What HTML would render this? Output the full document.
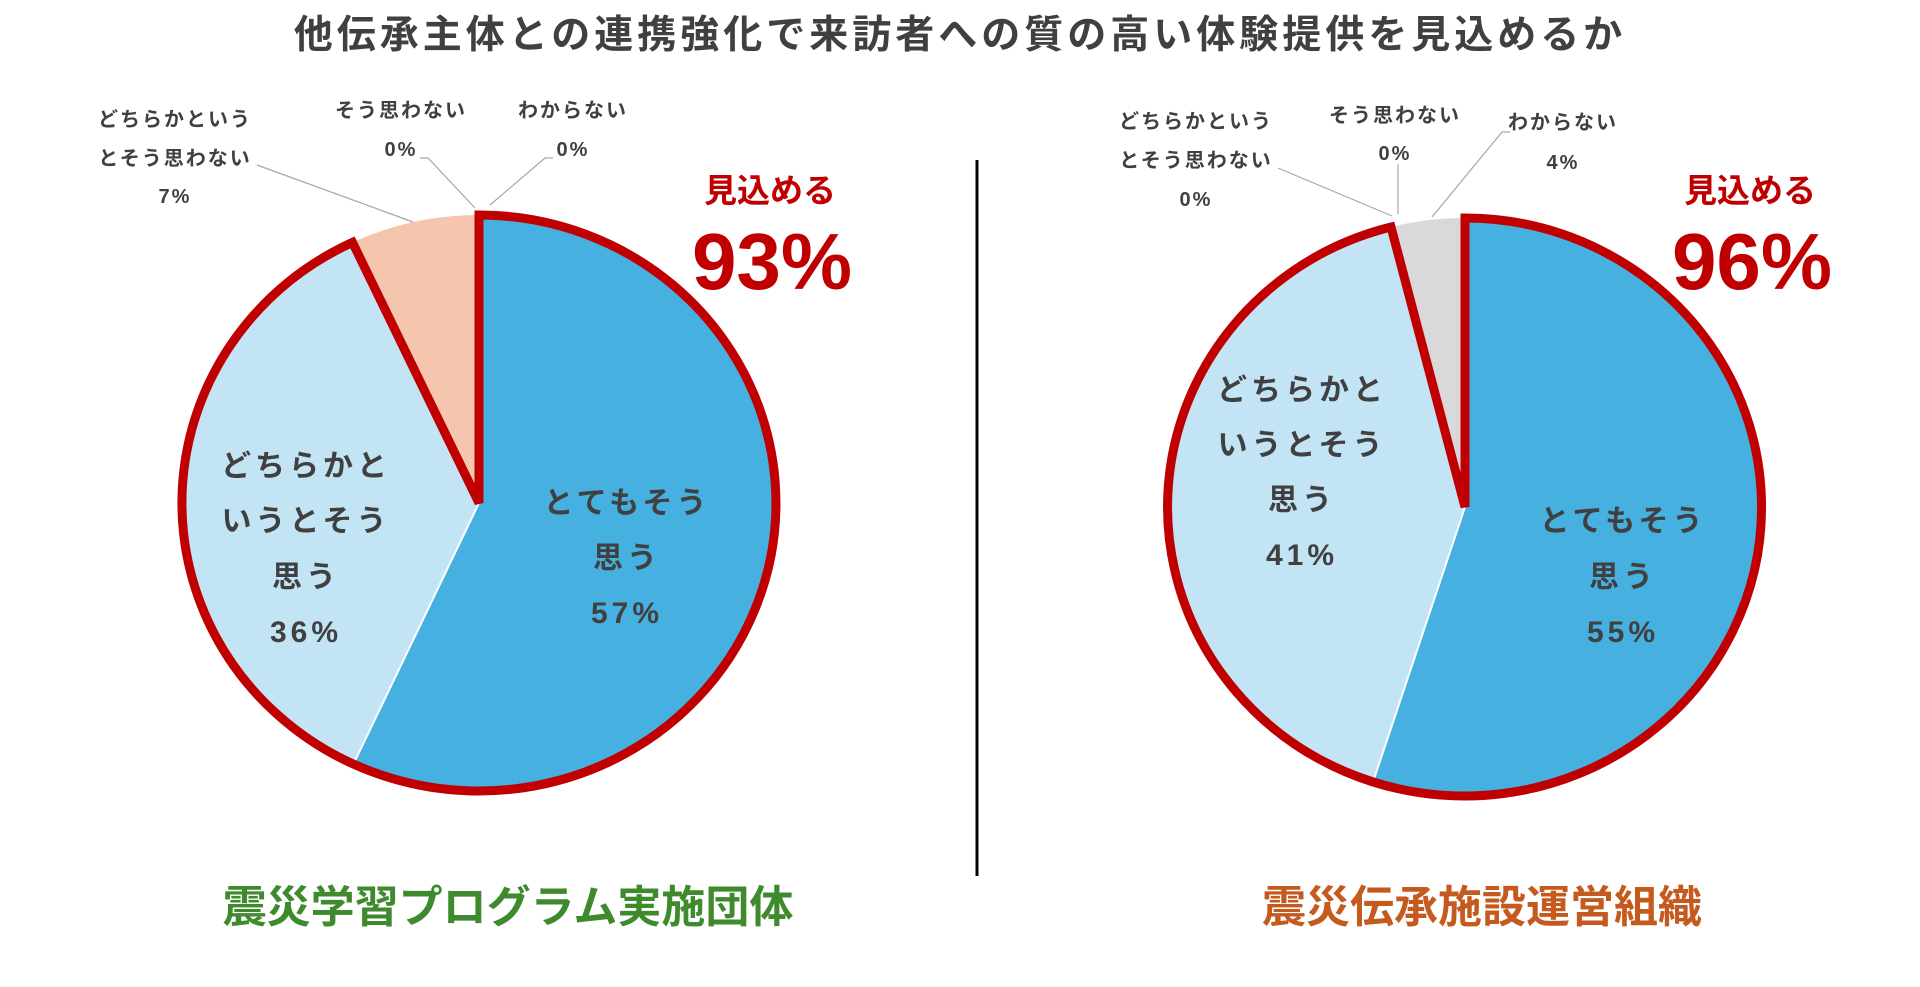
<!DOCTYPE html>
<html><head><meta charset="utf-8"><style>
html,body{margin:0;padding:0;background:#fff;}
body{width:1920px;height:982px;overflow:hidden;}
svg text{font-family:"Liberation Sans","Noto Sans CJK JP",sans-serif;font-weight:bold;}
</style></head><body>
<svg width="1920" height="982" viewBox="0 0 1920 982" xmlns="http://www.w3.org/2000/svg">
<text x="960" y="48" text-anchor="middle" font-size="39" fill="#404040" letter-spacing="4">他伝承主体との連携強化で来訪者への質の高い体験提供を見込めるか</text>

<!-- Left pie -->
<path d="M479,503 L479,215 A297,288 0 1 1 353.5,764 Z" fill="#46b0e1"/>
<path d="M479,503 L353.5,764 A297,288 0 0 1 352.5,242.4 Z" fill="#c2e4f5"/>
<path d="M479,503 L352.5,242.4 A297,288 0 0 1 479,215 Z" fill="#f5c6ad"/>
<line x1="479" y1="503" x2="353.5" y2="764" stroke="#fff" stroke-width="2"/>
<path d="M479,503 L479,215 A297,288 0 1 1 352.5,242.4 Z" fill="none" stroke="#c00000" stroke-width="9" stroke-linejoin="miter"/>

<g font-size="30" fill="#404040" text-anchor="middle" letter-spacing="4">
<text x="627" y="513">とてもそう</text><text x="627" y="568">思う</text><text x="627" y="623">57%</text>
<text x="306" y="476">どちらかと</text><text x="306" y="531">いうとそう</text><text x="306" y="587">思う</text><text x="306" y="642">36%</text>
</g>
<g font-size="20" fill="#404040" text-anchor="middle" letter-spacing="2">
<text x="175" y="126">どちらかという</text><text x="175" y="165">とそう思わない</text><text x="175" y="203">7%</text>
<text x="401" y="117">そう思わない</text><text x="401" y="156">0%</text>
<text x="573" y="117">わからない</text><text x="573" y="156">0%</text>
</g>
<g stroke="#a6a6a6" stroke-width="1.2" fill="none">
<polyline points="257,165 413,222"/>
<polyline points="420,158 428,158 475,208"/>
<polyline points="553,158 545,158 490,205"/>
</g>
<text x="770" y="202" text-anchor="middle" font-size="33" fill="#c00000">見込める</text>
<text x="772" y="289" text-anchor="middle" font-size="80" fill="#c00000">93%</text>

<!-- divider -->
<line x1="977" y1="160" x2="977" y2="876" stroke="#000" stroke-width="3"/>

<!-- Right pie -->
<path d="M1465,507 L1465,218 A297,289 0 1 1 1373,782 Z" fill="#46b0e1"/>
<path d="M1465,507 L1373,782 A297,289 0 0 1 1391,227 Z" fill="#c2e4f5"/>
<path d="M1465,507 L1391,227 A297,289 0 0 1 1465,218 Z" fill="#d9d9d9"/>
<line x1="1465" y1="507" x2="1373" y2="782" stroke="#fff" stroke-width="2"/>
<path d="M1465,507 L1465,218 A297,289 0 1 1 1391,227 Z" fill="none" stroke="#c00000" stroke-width="9" stroke-linejoin="miter"/>

<g font-size="30" fill="#404040" text-anchor="middle" letter-spacing="4">
<text x="1623" y="531">とてもそう</text><text x="1623" y="587">思う</text><text x="1623" y="642">55%</text>
<text x="1302" y="400">どちらかと</text><text x="1302" y="455">いうとそう</text><text x="1302" y="510">思う</text><text x="1302" y="565">41%</text>
</g>
<g font-size="20" fill="#404040" text-anchor="middle" letter-spacing="2">
<text x="1196" y="128">どちらかという</text><text x="1196" y="167">とそう思わない</text><text x="1196" y="206">0%</text>
<text x="1395" y="122">そう思わない</text><text x="1395" y="160">0%</text>
<text x="1563" y="129">わからない</text><text x="1563" y="169">4%</text>
</g>
<g stroke="#a6a6a6" stroke-width="1.2" fill="none">
<polyline points="1278,168 1392,216"/>
<polyline points="1398,164 1398,214"/>
<polyline points="1510,132 1502,132 1432,217"/>
</g>
<text x="1750" y="202" text-anchor="middle" font-size="33" fill="#c00000">見込める</text>
<text x="1752" y="289" text-anchor="middle" font-size="80" fill="#c00000">96%</text>

<text x="508" y="922" text-anchor="middle" font-size="44" fill="#3f8a2c">震災学習プログラム実施団体</text>
<text x="1482" y="922" text-anchor="middle" font-size="44" fill="#c55a1e">震災伝承施設運営組織</text>
</svg>
</body></html>
